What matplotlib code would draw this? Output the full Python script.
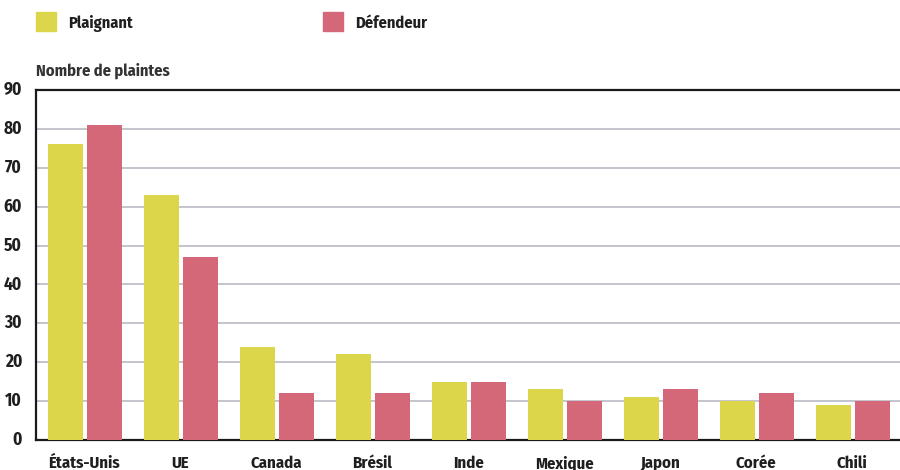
import matplotlib
matplotlib.use("Agg")
import matplotlib.pyplot as plt
from matplotlib.patches import Rectangle
import numpy as np

categories = ["États-Unis", "UE", "Canada", "Brésil", "Inde", "Mexique", "Japon", "Corée", "Chili"]
plaignant = [76, 63, 24, 22, 15, 13, 11, 10, 9]
defendeur = [81, 47, 12, 12, 15, 10, 13, 12, 10]
yticks = [0, 10, 20, 30, 40, 50, 60, 70, 80, 90]

YELLOW = "#DCD64A"
RED = "#D46878"
TXT = "#1f1f1f"

plt.rcParams['font.family'] = ['Fira Sans Condensed', 'DejaVu Sans']
plt.rcParams['font.weight'] = 'bold'

fig = plt.figure(figsize=(9, 4.7), dpi=100)
ax = fig.add_axes([0.04, 0.0638, 0.96, 0.7447])

x = np.arange(len(categories))
w = 0.365
off = 0.203
ax.bar(x - off + 0.01, plaignant, width=w, color=YELLOW, zorder=3)
ax.bar(x + off + 0.01, defendeur, width=w, color=RED, zorder=3)

ax.set_xlim(-0.5, len(categories) - 0.5)
ax.set_ylim(0, 90)
ax.set_yticks(yticks)
ax.set_yticklabels([str(v) for v in yticks], fontsize=12.5, fontweight='bold', color=TXT)
ax.set_xticks(x)
ax.set_xticklabels(categories, fontsize=12, fontweight='bold', color=TXT)
ax.tick_params(axis='both', length=0)
ax.tick_params(axis='y', pad=10)
ax.tick_params(axis='x', pad=11)
for lab in ax.get_yticklabels():
    lab.set_va('center')

ax.grid(axis='y', color="#C4C4CC", linewidth=1.4, zorder=0)
ax.set_axisbelow(True)
ax.spines['right'].set_visible(False)
for s in ['top', 'left', 'bottom']:
    ax.spines[s].set_color('#1a1a1a')
    ax.spines[s].set_linewidth(1.6)

# legend
fig.patches.append(Rectangle((36/900, 1 - 31/470), 20/900, 19/470, transform=fig.transFigure, color=YELLOW))
fig.text(68/900, 1 - 23/470, "Plaignant", fontsize=11.8, fontweight='bold', color=TXT, va='center')
fig.patches.append(Rectangle((323/900, 1 - 31/470), 20/900, 19/470, transform=fig.transFigure, color=RED))
fig.text(355/900, 1 - 23/470, "Défendeur", fontsize=11.8, fontweight='bold', color=TXT, va='center')

fig.text(36/900, 1 - 71/470, "Nombre de plaintes", fontsize=11.8, fontweight='bold', color="#333333", va='center')

fig.savefig("out.png", dpi=100)
